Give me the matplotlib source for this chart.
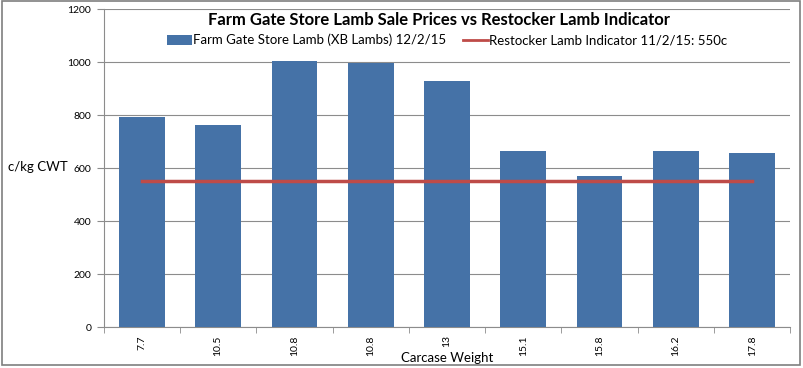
import matplotlib
matplotlib.use("Agg")
import matplotlib.pyplot as plt
import numpy as np
from matplotlib.patches import Rectangle

plt.rcParams["font.family"] = ["Lato", "DejaVu Sans"]

weights = ["7.7", "10.5", "10.8", "10.8", "13", "15.1", "15.8", "16.2", "17.8"]
prices = [792, 764, 1004, 996, 928, 664, 570, 666, 656]
indicator = 550

blue = "#4572A7"
red = "#BE4B48"
grey = "#8c8c8c"

fig = plt.figure(figsize=(8.04, 3.68), dpi=100)
ax = fig.add_axes([0.129, 0.111, 0.854, 0.8645])
x = np.arange(len(weights))

bars = ax.bar(x, prices, width=0.6, color=blue, zorder=3)
line, = ax.plot([x[0], x[-1]], [indicator, indicator], color=red, lw=2.5, zorder=4)

ax.set_xlim(-0.5, len(weights) - 0.5)
ax.set_ylim(0, 1200)
ax.set_yticks(range(0, 1201, 200))
ax.yaxis.grid(True, color=grey, lw=0.8, zorder=0)
ax.set_xticks(x)
ax.set_xticklabels(weights, rotation=90, fontsize=7.5)
ax.set_xticks(np.arange(-0.5, len(weights), 1), minor=True)
ax.tick_params(axis="x", which="major", length=0, pad=6)
ax.tick_params(axis="x", which="minor", length=4, color=grey, direction="out")
ax.tick_params(axis="y", labelsize=7.5, length=5, color=grey, pad=4)
for s in ["top", "right"]:
    ax.spines[s].set_visible(False)
for s in ["left", "bottom"]:
    ax.spines[s].set_color(grey)

ax.set_xlabel("Carcase Weight", fontsize=9.5, labelpad=-3)
fig.text(0.01, 0.545, "c/kg CWT", fontsize=9.5, va="center", ha="left")
fig.text(0.546, 0.946, "Farm Gate Store Lamb Sale Prices vs Restocker Lamb Indicator",
         fontsize=12, fontweight="bold", ha="center", va="center")
leg = ax.legend([bars, line],
                ["Farm Gate Store Lamb (XB Lambs) 12/2/15", "Restocker Lamb Indicator 11/2/15: 550c"],
                loc="center", bbox_to_anchor=(0.5, 0.902), ncol=2, frameon=False,
                fontsize=9.5, handlelength=1.9, handleheight=0.8, handletextpad=0.05,
                columnspacing=1.3, borderaxespad=0)
leg.get_lines()[0].set_linewidth(2)

fig.patches.append(Rectangle((0.002, 0.008), 0.993, 0.99, transform=fig.transFigure,
                             fill=False, edgecolor="#7f7f7f", lw=1.2))

fig.savefig("out.png", dpi=100)
